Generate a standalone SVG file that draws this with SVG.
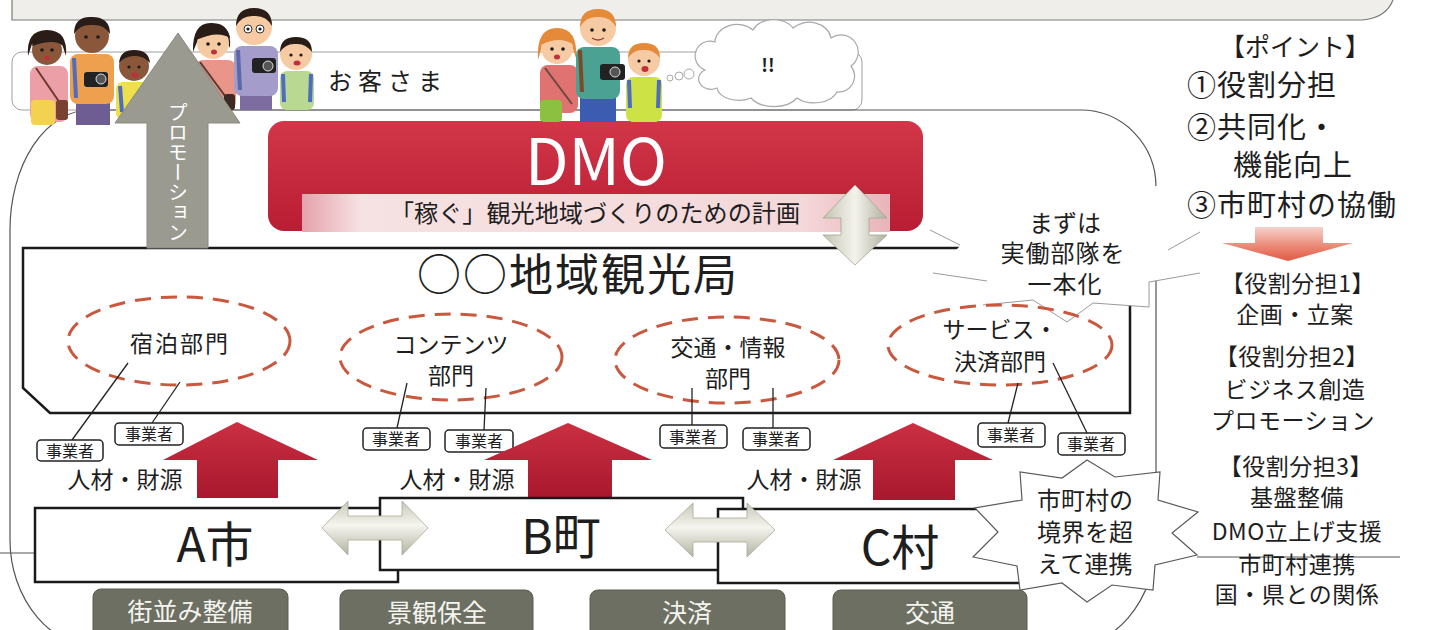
<svg xmlns="http://www.w3.org/2000/svg" width="1429" height="630" viewBox="0 0 1429 630">
  <style>
    text { font-family: "Noto Sans CJK JP", "Noto Sans", sans-serif; fill: #1e1e1e; }
    .ell { fill: none; stroke: #c8583e; stroke-width: 3; stroke-dasharray: 16 10; }
    .tag rect { fill: #fff; stroke: #222; stroke-width: 1.5; }
    .tag text { font-size: 16px; text-anchor: middle; }
    .dept text { font-size: 23px; text-anchor: middle; }
    .conn line { stroke: #222; stroke-width: 1.3; }
    .redup { fill: url(#redUp); }
    .res { font-size: 23px; text-anchor: middle; }
    .muni rect { fill: #fff; stroke: #1a1a1a; stroke-width: 2.5; }
    .muni text { font-size: 48px; text-anchor: middle; }
    .base rect { fill: #6c6f62; stroke: #5a5c50; stroke-width: 1; }
    .base text { fill: #f4f4ef; font-size: 25px; text-anchor: middle; }
    .hx { fill: url(#silverH); stroke: #a9a99a; stroke-width: 0.8; }
    .col { font-size: 29px; letter-spacing: 1px; }
    .col2 { font-size: 23px; text-anchor: middle; letter-spacing: 0.5px; }
    .call { font-size: 24px; text-anchor: middle; }
    .skin1 { fill: #8a573a; }
    .skin2 { fill: #f6caa2; }
    .hairD { fill: #2a1c16; }
    .hairO { fill: #e58a38; }
    .eye { fill: #1a1a1a; }
    .mouth { fill: #c0303a; }
  </style>
  <defs>
    <linearGradient id="redBox" x1="0" y1="0" x2="0" y2="1">
      <stop offset="0" stop-color="#d23648"/>
      <stop offset="1" stop-color="#b81d33"/>
    </linearGradient>
    <linearGradient id="pinkBar" x1="0" y1="0" x2="1" y2="0">
      <stop offset="0" stop-color="#e6a2ac"/>
      <stop offset="0.1" stop-color="#f6e2e2"/>
      <stop offset="0.85" stop-color="#f4d8da"/>
      <stop offset="1" stop-color="#e9b4ba"/>
    </linearGradient>
    <linearGradient id="redUp" x1="0" y1="0" x2="0" y2="1">
      <stop offset="0" stop-color="#cb2f42"/>
      <stop offset="1" stop-color="#a8182e"/>
    </linearGradient>
    <linearGradient id="silverH" x1="0" y1="0" x2="0" y2="1">
      <stop offset="0" stop-color="#c7c7b7"/>
      <stop offset="0.45" stop-color="#f5f5ef"/>
      <stop offset="1" stop-color="#b3b3a2"/>
    </linearGradient>
    <linearGradient id="silverV" x1="0" y1="0" x2="1" y2="0">
      <stop offset="0" stop-color="#c3c3b3"/>
      <stop offset="0.5" stop-color="#f3f3ec"/>
      <stop offset="1" stop-color="#b0b09f"/>
    </linearGradient>
    <linearGradient id="downArrow" x1="0" y1="0" x2="0" y2="1">
      <stop offset="0" stop-color="#f6d2cc"/>
      <stop offset="0.55" stop-color="#ec8a78"/>
      <stop offset="1" stop-color="#e05a44"/>
    </linearGradient>
  </defs>

  <rect width="1429" height="630" fill="#ffffff"/>

  <!-- upper panel edge -->
  <path d="M12,0 V20 H1362 Q1386,18 1393,0 Z" fill="#efeeea"/>
  <path d="M12,0 V20 H1362 Q1386,18 1393,0" fill="none" stroke="#7a7a7a" stroke-width="1.2"/>

  <!-- stray scan rules -->
  <line x1="0" y1="553" x2="35" y2="553" stroke="#555" stroke-width="1"/>
  <line x1="1197" y1="557" x2="1400" y2="557" stroke="#555" stroke-width="1"/>

  <!-- customer band -->
  <g id="customers">
    <rect x="12" y="52" width="850" height="58" rx="10" fill="#fff" stroke="#a0a0a0" stroke-width="1"/>
    <text x="328" y="90" font-size="24" letter-spacing="6">お客さま</text>
  </g>

  <!-- outer region frame -->
  <path id="region-frame" d="M90,110 H1081 A75 77 0 0 1 1156,187 V540 A95 110 0 0 1 1061,650 H105 A95 110 0 0 1 10,540 V230 A80 120 0 0 1 90,110 Z" fill="none" stroke="#555" stroke-width="1.2"/>

  <!-- tourism bureau -->
  <g id="bureau">
    <path d="M23,248 H1130 V413 H50 L23,388 Z" fill="#fff" stroke="#1a1a1a" stroke-width="2.5"/>
    <text x="578" y="291" font-size="44" text-anchor="middle" letter-spacing="2">○○地域観光局</text>
  </g>

  <!-- DMO -->
  <g id="dmo">
    <rect x="268" y="121" width="655" height="110" rx="16" fill="url(#redBox)"/>
    <rect x="302" y="194" width="588" height="38" fill="url(#pinkBar)"/>
    <text x="596" y="185" font-family="'Noto Sans', sans-serif" font-size="64" text-anchor="middle" textLength="142" lengthAdjust="spacingAndGlyphs" style="fill:#fff">DMO</text>
    <text x="595" y="222" font-size="24" text-anchor="middle" textLength="410" lengthAdjust="spacingAndGlyphs">「稼ぐ」観光地域づくりのための計画</text>
  </g>

  <!-- DMO / bureau link -->
  <g id="dmo-link">
    <polygon points="855,185 887,218 869,218 869,235 887,235 855,265 823,235 841,235 841,218 823,218" fill="url(#silverV)" stroke="#a5a596" stroke-width="0.8"/>
  </g>

  <!-- callout: unify the working units -->
  <g id="callout-unify">
    <polygon points="930,230 960,246 933,273 987,281 983,305 1033,300 1067,322 1093,303 1149,307 1149,282 1200,273 1168,250 1200,232 1175,212 1180,180 1120,195 1075,170 1030,192 975,182 985,215" fill="#fff"/>
    <g fill="none" stroke="#9a9a9a" stroke-width="1">
      <line x1="930" y1="230" x2="960" y2="245"/>
      <line x1="933" y1="273" x2="987" y2="281"/>
      <polyline points="983,305 1033,300 1067,322 1093,303 1149,307 1149,282 1200,273"/>
      <line x1="1168" y1="250" x2="1200" y2="232"/>
    </g>
    <text class="call" x="1065" y="232">まずは</text>
    <text class="call" x="1063" y="262" letter-spacing="1">実働部隊を</text>
    <text class="call" x="1065" y="293" letter-spacing="1">一本化</text>
  </g>

  <!-- departments -->
  <g id="dept-lodging" class="dept">
    <ellipse class="ell" cx="179" cy="341" rx="111" ry="44"/>
    <text x="180" y="352" letter-spacing="2">宿泊部門</text>
  </g>
  <g id="dept-contents" class="dept">
    <ellipse class="ell" cx="451" cy="357" rx="111" ry="43"/>
    <text x="451" y="353">コンテンツ</text>
    <text x="451" y="384">部門</text>
  </g>
  <g id="dept-transport" class="dept">
    <ellipse class="ell" cx="727" cy="360" rx="112" ry="43"/>
    <text x="728" y="356">交通・情報</text>
    <text x="728" y="387">部門</text>
  </g>
  <g id="dept-service" class="dept">
    <ellipse class="ell" cx="1000" cy="345" rx="112" ry="40"/>
    <text x="1000" y="338">サービス・</text>
    <text x="1000" y="370">決済部門</text>
  </g>

  <!-- department to operator links -->
  <g id="connectors" class="conn">
    <line x1="128" y1="363" x2="72" y2="440"/>
    <line x1="180" y1="382" x2="152" y2="423"/>
    <line x1="407" y1="383" x2="397" y2="428"/>
    <line x1="486" y1="388" x2="484" y2="430"/>
    <line x1="692" y1="388" x2="692" y2="425"/>
    <line x1="773" y1="388" x2="773" y2="428"/>
    <line x1="1018" y1="383" x2="1008" y2="423"/>
    <line x1="1053" y1="363" x2="1087" y2="433"/>
  </g>

  <!-- operators -->
  <g id="op1" class="tag"><rect x="37" y="440" width="66" height="21" rx="4"/><text x="70" y="457">事業者</text></g>
  <g id="op2" class="tag"><rect x="115" y="423" width="68" height="22" rx="4"/><text x="149" y="440">事業者</text></g>
  <g id="op3" class="tag"><rect x="363" y="428" width="67" height="22" rx="4"/><text x="396" y="445">事業者</text></g>
  <g id="op4" class="tag"><rect x="445" y="430" width="68" height="22" rx="4"/><text x="479" y="447">事業者</text></g>
  <g id="op5" class="tag"><rect x="660" y="425" width="67" height="23" rx="4"/><text x="693" y="443">事業者</text></g>
  <g id="op6" class="tag"><rect x="743" y="428" width="67" height="22" rx="4"/><text x="776" y="445">事業者</text></g>
  <g id="op7" class="tag"><rect x="978" y="423" width="67" height="24" rx="4"/><text x="1011" y="441">事業者</text></g>
  <g id="op8" class="tag"><rect x="1058" y="433" width="67" height="22" rx="4"/><text x="1091" y="450">事業者</text></g>

  <!-- resources flowing up -->
  <g id="flow-a">
    <polygon class="redup" points="237,422 318,460 278,460 278,498 197,498 197,460 163,460"/>
    <text class="res" x="125" y="488">人材・財源</text>
  </g>
  <g id="flow-b">
    <polygon class="redup" points="568,423 652,460 612,460 612,498 528,498 528,460 484,460"/>
    <text class="res" x="457" y="488">人材・財源</text>
  </g>
  <g id="flow-c">
    <polygon class="redup" points="913,423 993,460 955,460 955,500 873,500 873,460 833,460"/>
    <text class="res" x="804" y="488">人材・財源</text>
  </g>

  <!-- municipalities -->
  <g id="city-a" class="muni">
    <rect x="35" y="508" width="363" height="74"/>
    <text x="215" y="562">A市</text>
  </g>
  <g id="town-b" class="muni">
    <rect x="380" y="498" width="363" height="72"/>
    <text x="561" y="554">B町</text>
  </g>
  <g id="village-c" class="muni">
    <rect x="718" y="509" width="330" height="74"/>
    <text x="900" y="565">C村</text>
  </g>

  <!-- cooperation arrows -->
  <g id="link-ab"><polygon class="hx" points="322,528 348,501 348,516 402,516 402,501 428,528 402,555 402,540 348,540 348,555"/></g>
  <g id="link-bc"><polygon class="hx" points="665,530 693,503 693,518 747,518 747,503 775,530 747,557 747,542 693,542 693,557"/></g>

  <!-- infrastructure items -->
  <g id="item-townscape" class="base"><rect x="93" y="589" width="195" height="55" rx="8"/><text x="190" y="621">街並み整備</text></g>
  <g id="item-landscape" class="base"><rect x="340" y="590" width="193" height="55" rx="8"/><text x="437" y="622">景観保全</text></g>
  <g id="item-payment" class="base"><rect x="590" y="590" width="195" height="55" rx="8"/><text x="687" y="622">決済</text></g>
  <g id="item-transport" class="base"><rect x="833" y="590" width="194" height="55" rx="8"/><text x="930" y="622">交通</text></g>

  <!-- callout: beyond municipal borders -->
  <g id="callout-border">
    <polygon points="1087,460 1115,477 1160,472 1158,500 1198,512 1172,533 1197,555 1155,565 1153,590 1112,585 1087,602 1062,583 1020,590 1017,566 973,557 998,532 975,508 1022,500 1020,472 1062,478" fill="#fff" stroke="#5a5a5a" stroke-width="1.2"/>
    <text class="call" x="1085" y="509">市町村の</text>
    <text class="call" x="1085" y="541">境界を超</text>
    <text class="call" x="1085" y="573">えて連携</text>
  </g>

  <!-- visitors -->
  <g id="visitors">
    <!-- woman, pink top -->
    <g>
      <rect x="30" y="66" width="38" height="56" rx="8" fill="#ec9fa6"/>
      <rect x="31" y="100" width="24" height="25" rx="4" fill="#f2d24e"/>
      <line x1="36" y1="68" x2="62" y2="106" stroke="#6a3a2a" stroke-width="2"/>
      <rect x="56" y="100" width="12" height="20" rx="3" fill="#7a4030"/>
      <path d="M28,56 Q26,30 47,30 Q68,30 66,56 L62,44 Q47,38 32,44 Z" class="hairD"/>
      <circle cx="47" cy="50" r="15" class="skin1"/>
      <path d="M32,46 Q34,32 47,32 Q61,32 63,46 Q55,38 32,46 Z" class="hairD"/>
      <circle cx="42" cy="50" r="1.8" class="eye"/><circle cx="52" cy="50" r="1.8" class="eye"/>
      <ellipse cx="47" cy="58" rx="3" ry="2" class="mouth"/>
    </g>
    <!-- man, orange top -->
    <g>
      <rect x="76" y="100" width="34" height="25" fill="#6e5d92"/>
      <rect x="70" y="54" width="44" height="50" rx="8" fill="#efa04e"/>
      <line x1="74" y1="58" x2="76" y2="98" stroke="#4e6cc0" stroke-width="4"/>
      <circle cx="92" cy="36" r="17" class="skin1"/>
      <path d="M74,34 Q74,16 92,17 Q110,17 110,34 Q104,24 92,25 Q80,24 74,34 Z" class="hairD"/>
      <circle cx="86" cy="37" r="1.8" class="eye"/><circle cx="98" cy="37" r="1.8" class="eye"/>
      <rect x="84" y="72" width="24" height="15" rx="3" fill="#222"/>
      <circle cx="101" cy="79" r="5" fill="#555" stroke="#ddd" stroke-width="1"/>
    </g>
    <!-- boy, yellow top -->
    <g>
      <rect x="116" y="82" width="36" height="38" rx="7" fill="#eee04a"/>
      <line x1="120" y1="86" x2="122" y2="112" stroke="#4e6cc0" stroke-width="4"/>
      <circle cx="134" cy="66" r="15" class="skin1"/>
      <path d="M119,63 Q120,50 134,50 Q149,50 150,63 Q143,55 134,56 Q125,56 119,63 Z" class="hairD"/>
      <circle cx="129" cy="67" r="1.6" class="eye"/><circle cx="139" cy="67" r="1.6" class="eye"/>
      <ellipse cx="135" cy="75" rx="3.5" ry="2.5" class="mouth"/>
    </g>
    <!-- woman, salmon top -->
    <g>
      <rect x="195" y="60" width="41" height="50" rx="8" fill="#e9958a"/>
      <line x1="200" y1="62" x2="228" y2="100" stroke="#5a3a2a" stroke-width="2"/>
      <rect x="224" y="94" width="11" height="16" rx="3" fill="#3a2a22"/>
      <path d="M193,52 Q192,22 212,23 Q232,23 230,48 L226,40 Q212,34 197,42 Z" class="hairD"/>
      <circle cx="213" cy="43" r="16" class="skin2"/>
      <path d="M196,40 Q198,25 213,25 Q228,25 230,38 Q218,30 196,40 Z" class="hairD"/>
      <circle cx="208" cy="44" r="1.8" class="eye"/><circle cx="219" cy="44" r="1.8" class="eye"/>
      <ellipse cx="214" cy="52" rx="3" ry="2.5" class="mouth"/>
    </g>
    <!-- man, lavender top -->
    <g>
      <rect x="240" y="92" width="32" height="18" fill="#7c6ca0"/>
      <rect x="234" y="46" width="44" height="50" rx="8" fill="#a49cca"/>
      <line x1="238" y1="50" x2="240" y2="90" stroke="#5a6aa8" stroke-width="4"/>
      <circle cx="254" cy="27" r="18" class="skin2"/>
      <path d="M236,26 Q236,8 254,8 Q272,8 272,26 Q266,15 254,16 Q242,15 236,26 Z" class="hairD"/>
      <circle cx="248" cy="29" r="4" fill="#fff" stroke="#333" stroke-width="1"/><circle cx="260" cy="29" r="4" fill="#fff" stroke="#333" stroke-width="1"/>
      <circle cx="248" cy="29" r="1.6" class="eye"/><circle cx="260" cy="29" r="1.6" class="eye"/>
      <rect x="252" y="58" width="24" height="15" rx="3" fill="#222"/>
      <circle cx="268" cy="66" r="5" fill="#555" stroke="#ddd" stroke-width="1"/>
    </g>
    <!-- boy, green top -->
    <g>
      <rect x="280" y="71" width="34" height="39" rx="7" fill="#b9d992"/>
      <line x1="283" y1="74" x2="284" y2="102" stroke="#4e6cc0" stroke-width="4"/>
      <line x1="311" y1="74" x2="310" y2="102" stroke="#4e6cc0" stroke-width="4"/>
      <circle cx="296" cy="54" r="16" class="skin2"/>
      <path d="M280,52 Q280,37 296,37 Q312,37 312,52 Q305,43 296,44 Q286,43 280,52 Z" class="hairD"/>
      <circle cx="291" cy="55" r="1.6" class="eye"/><circle cx="301" cy="55" r="1.6" class="eye"/>
      <ellipse cx="297" cy="63" rx="3.5" ry="2.5" class="mouth"/>
    </g>
    <!-- woman, red top -->
    <g>
      <rect x="540" y="65" width="38" height="48" rx="8" fill="#e07272"/>
      <rect x="540" y="100" width="22" height="22" rx="4" fill="#8cc040"/>
      <line x1="545" y1="68" x2="572" y2="104" stroke="#6a4a3a" stroke-width="2"/>
      <path d="M538,60 Q536,28 557,28 Q578,28 576,58 L572,46 Q557,38 542,46 Z" class="hairO"/>
      <circle cx="557" cy="48" r="16" class="skin2"/>
      <path d="M541,45 Q542,30 557,30 Q572,30 574,45 Q560,35 541,45 Z" class="hairO"/>
      <circle cx="552" cy="49" r="1.8" class="eye"/><circle cx="563" cy="49" r="1.8" class="eye"/>
      <ellipse cx="557" cy="57" rx="3" ry="2.5" class="mouth"/>
    </g>
    <!-- man, teal top -->
    <g>
      <rect x="580" y="95" width="36" height="27" fill="#3c5cb2"/>
      <rect x="576" y="47" width="44" height="52" rx="8" fill="#4ca292"/>
      <line x1="580" y1="50" x2="582" y2="92" stroke="#7a4a2a" stroke-width="4"/>
      <circle cx="598" cy="28" r="18" class="skin2"/>
      <path d="M580,27 Q580,9 598,9 Q616,9 616,27 Q610,16 598,17 Q586,16 580,27 Z" class="hairO"/>
      <circle cx="592" cy="30" r="1.8" class="eye"/><circle cx="604" cy="30" r="1.8" class="eye"/>
      <path d="M592,38 Q598,42 604,38" fill="none" stroke="#8a4030" stroke-width="1.5"/>
      <rect x="600" y="64" width="25" height="16" rx="3" fill="#222"/>
      <circle cx="615" cy="72" r="5" fill="#555" stroke="#ddd" stroke-width="1"/>
    </g>
    <!-- boy, lime top -->
    <g>
      <rect x="626" y="77" width="36" height="45" rx="7" fill="#cde244"/>
      <line x1="629" y1="80" x2="630" y2="108" stroke="#4e6cc0" stroke-width="4"/>
      <line x1="659" y1="80" x2="658" y2="108" stroke="#4e6cc0" stroke-width="4"/>
      <circle cx="644" cy="60" r="16" class="skin2"/>
      <path d="M628,58 Q628,43 644,43 Q660,43 660,58 Q653,49 644,50 Q634,49 628,58 Z" class="hairO"/>
      <circle cx="639" cy="61" r="1.6" class="eye"/><circle cx="649" cy="61" r="1.6" class="eye"/>
      <ellipse cx="645" cy="69" rx="3.5" ry="3" class="mouth"/>
    </g>
  </g>

  <!-- promotion arrow -->
  <g id="promotion">
    <polygon points="178,33 240,123 208,123 208,248 147,248 147,123 115,123" fill="#9b9a91" stroke="#8a897f" stroke-width="1"/>
    <text x="178" y="172" font-size="20" text-anchor="middle" style="writing-mode: vertical-rl; fill:#fff">プロモーション</text>
  </g>

  <!-- thought cloud -->
  <g id="thought">
    <circle cx="670" cy="78" r="3" fill="#fff" stroke="#a8a8a8" stroke-width="1"/>
    <circle cx="679" cy="76" r="4" fill="#fff" stroke="#a8a8a8" stroke-width="1"/>
    <circle cx="689" cy="74" r="5" fill="#fff" stroke="#a8a8a8" stroke-width="1"/>
    <path d="M705,70 a14 14 0 0 1 10,-28 a22 18 0 0 1 38,-12 a22 16 0 0 1 40,-2 a22 18 0 0 1 38,10 a16 16 0 0 1 20,28 a16 16 0 0 1 -14,26 a24 16 0 0 1 -40,6 a26 16 0 0 1 -46,0 a22 14 0 0 1 -34,-10 a12 10 0 0 1 -12,-18 Z" fill="#fff" stroke="#a8a8a8" stroke-width="1.2"/>
    <text x="768" y="72" font-size="18" font-weight="bold" text-anchor="middle">!!</text>
  </g>

  <!-- key points -->
  <g id="points">
    <text x="1295" y="56" font-size="25" text-anchor="middle">【ポイント】</text>
    <text class="col" x="1187" y="96">①役割分担</text>
    <text class="col" x="1187" y="138">②共同化・</text>
    <text class="col" x="1233" y="176" letter-spacing="3">機能向上</text>
    <text class="col" x="1187" y="216" letter-spacing="2">③市町村の協働</text>
  </g>
  <g id="points-arrow">
    <polygon points="1255,227 1323,227 1323,243 1353,243 1288,261 1222,243 1255,243" fill="url(#downArrow)"/>
  </g>
  <g id="roles">
    <text class="col2" x="1298" y="292">【役割分担1】</text>
    <text class="col2" x="1295" y="323">企画・立案</text>
    <text class="col2" x="1292" y="365">【役割分担2】</text>
    <text class="col2" x="1295" y="398">ビジネス創造</text>
    <text class="col2" x="1293" y="429">プロモーション</text>
    <text class="col2" x="1296" y="475">【役割分担3】</text>
    <text class="col2" x="1297" y="506">基盤整備</text>
    <text class="col2" x="1297" y="540">DMO立上げ支援</text>
    <text class="col2" x="1297" y="573">市町村連携</text>
    <text class="col2" x="1297" y="603">国・県との関係</text>
  </g>
</svg>
